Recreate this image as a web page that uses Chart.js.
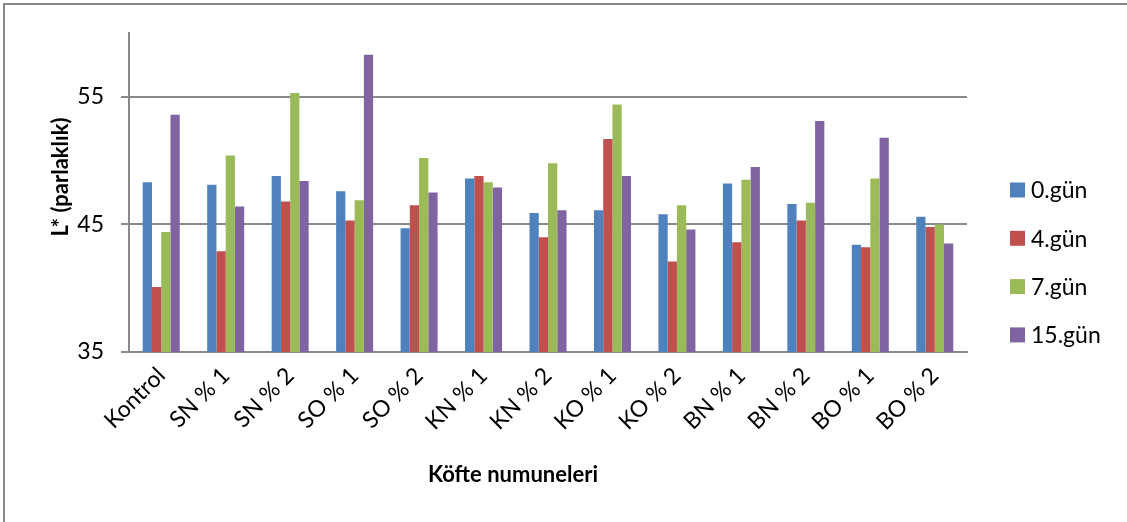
<!DOCTYPE html>
<html>
<head>
<meta charset="utf-8">
<script src="https://cdn.jsdelivr.net/npm/chart.js@4/dist/chart.umd.min.js"></script>
<style>
  html, body { margin: 0; padding: 0; background: #fff; }
  #wrap { width: 1127px; height: 522px; }
</style>
</head>
<body>
<div id="wrap"><canvas id="c" width="1127" height="522"></canvas></div>
<script>
// Köfte samples and L* (lightness) readings over storage days
const categories = ['Kontrol', 'SN % 1', 'SN % 2', 'SO % 1', 'SO % 2', 'KN % 1', 'KN % 2',
                    'KO % 1', 'KO % 2', 'BN % 1', 'BN % 2', 'BO % 1', 'BO % 2'];
const seriesNames = ['0.gün', '4.gün', '7.gün', '15.gün'];
const day0  = [48.3, 48.1, 48.8, 47.6, 44.7, 48.6, 45.9, 46.1, 45.8, 48.2, 46.6, 43.4, 45.6];
const day4  = [40.1, 42.9, 46.8, 45.3, 46.5, 48.8, 44.0, 51.7, 42.1, 43.6, 45.3, 43.2, 44.8];
const day7  = [44.4, 50.4, 55.3, 46.9, 50.2, 48.3, 49.8, 54.4, 46.5, 48.5, 46.7, 48.6, 45.0];
const day15 = [53.6, 46.4, 48.4, 58.3, 47.5, 47.9, 46.1, 48.8, 44.6, 49.5, 53.1, 51.8, 43.5];
const yTicks = [35, 45, 55];
const yMin = 35, yMax = 60;
const xTitle = 'Köfte numuneleri';
const yTitle = 'L* (parlaklık)';

const colors = ['#4F81BD', '#C0504D', '#9BBB59', '#8064A2'];
const axisGray = '#888888';
const FONT = 'Lato, "Liberation Sans", sans-serif';

// Frame, axis titles and the right-hand legend
const decorations = {
  id: 'decorations',
  beforeDraw(chart) {
    const ctx = chart.ctx;
    ctx.save();
    ctx.strokeStyle = axisGray;
    ctx.lineWidth = 2;
    ctx.beginPath();
    ctx.moveTo(4, chart.height);
    ctx.lineTo(4, 4);
    ctx.lineTo(chart.width, 4);
    ctx.stroke();
    ctx.restore();
  },
  afterDraw(chart) {
    const ctx = chart.ctx;
    ctx.save();
    ctx.fillStyle = '#000';
    ctx.font = 'bold 22px ' + FONT;
    ctx.textAlign = 'center';
    ctx.textBaseline = 'middle';
    ctx.fillText(xTitle, 513, 475);
    ctx.translate(61, 177);
    ctx.rotate(-Math.PI / 2);
    ctx.fillText(yTitle, 0, 0);
    ctx.restore();

    // legend
    ctx.save();
    ctx.font = '23px ' + FONT;
    ctx.textAlign = 'left';
    ctx.textBaseline = 'middle';
    const lx = 1010, box = 15, y0 = 190, gap = 48.3;
    chart.data.datasets.forEach((ds, i) => {
      const cy = y0 + i * gap;
      ctx.fillStyle = ds.backgroundColor;
      ctx.fillRect(lx, cy - box / 2, box, box);
      ctx.fillStyle = '#000';
      ctx.fillText(ds.label, lx + box + 6, cy + 1);
    });
    ctx.restore();
  }
};

const seriesValues = [day0, day4, day7, day15];

new Chart(document.getElementById('c'), {
  type: 'bar',
  data: {
    labels: categories,
    datasets: seriesNames.map((name, i) => ({
      label: name,
      data: seriesValues[i],
      backgroundColor: colors[i],
      borderWidth: 0,
      barPercentage: 1,
      categoryPercentage: 0.574
    }))
  },
  options: {
    responsive: false,
    animation: false,
    devicePixelRatio: 1,
    layout: { padding: { top: 33, right: 160, bottom: 0, left: 0 } },
    plugins: {
      legend: { display: false },
      tooltip: { enabled: false }
    },
    scales: {
      x: {
        grid: { display: false },
        border: { display: true, color: axisGray, width: 2 },
        ticks: {
          color: '#000',
          font: { family: FONT, size: 23 },
          minRotation: 45,
          maxRotation: 45,
          autoSkip: false,
          padding: 2
        },
        afterFit(scale) { scale.height = 170; }
      },
      y: {
        min: yMin,
        max: yMax,
        grid: { color: axisGray, lineWidth: 2, tickLength: 8, drawTicks: true },
        border: { display: true, color: axisGray, width: 2 },
        ticks: {
          color: '#000',
          font: { family: FONT, size: 23 },
          padding: 17
        },
        afterBuildTicks(scale) { scale.ticks = yTicks.map(v => ({ value: v })); },
        afterFit(scale) { scale.width = 129; }
      }
    }
  },
  plugins: [decorations]
});
</script>
</body>
</html>
